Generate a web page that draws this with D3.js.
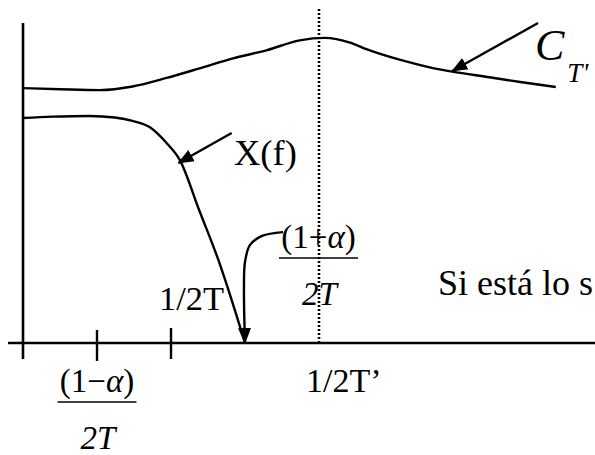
<!DOCTYPE html>
<html>
<head>
<meta charset="utf-8">
<script src="https://cdn.jsdelivr.net/npm/d3@7"></script>
<style>
  html, body { margin: 0; padding: 0; background: #fff; overflow: hidden; }
  svg { display: block; }
</style>
</head>
<body>
<svg id="chart" width="595" height="455"></svg>
<script>
// ---- data (frequency in units of 1/2T, amplitude relative to X(0)) ----
const xfFreq = [0, 0.20, 0.45, 0.62, 0.74, 0.86, 0.97, 1.06, 1.19, 1.32, 1.41, 1.50];
const xfAmp  = [1.00, 1.006, 1.009, 1.002, 0.987, 0.958, 0.889, 0.813, 0.591, 0.369, 0.191, 0.0];

const ctFreq = [0, 0.25, 0.52, 0.74, 0.97, 1.20, 1.42, 1.65, 1.87, 2.04, 2.21, 2.32, 2.55, 2.77, 2.90, 3.14, 3.36, 3.60];
const ctAmp  = [1.133, 1.128, 1.124, 1.140, 1.178, 1.222, 1.265, 1.302, 1.345, 1.356, 1.335, 1.306, 1.258, 1.222, 1.206, 1.182, 1.160, 1.138];

const tickValues = [0, 0.5, 1];            // f = 0, (1-α)/2T, 1/2T
const nyquistT2 = 2;                        // 1/2T'
const rolloffEdge = 1.5;                    // (1+α)/2T

// annotation arrows: [tail, tip] in (f, amplitude)
const arrowX  = [[1.41, 0.933], [1.05, 0.80]];
const arrowCT = [[3.48, 1.422], [2.90, 1.209]];
const arrowRoll = [[1.757, 0.493], [1.615, 0.476], [1.534, 0.436], [1.50, 0.36], [1.493, 0.236], [rolloffEdge, 0.0]];

// ---- scales ----
const x = d3.scaleLinear().domain([0, 1]).range([23, 171]);
const y = d3.scaleLinear().domain([0, 1]).range([343, 118]);

const FONT = "'Liberation Serif', 'Times New Roman', serif";
const svg = d3.select("#chart").attr("font-family", FONT);
svg.append("rect").attr("width", 595).attr("height", 455).attr("fill", "#fff");

const defs = svg.append("defs");
defs.append("marker")
  .attr("id", "head")
  .attr("markerUnits", "userSpaceOnUse")
  .attr("viewBox", "0 -7 16 14")
  .attr("refX", 15).attr("refY", 0)
  .attr("markerWidth", 16).attr("markerHeight", 14)
  .attr("orient", "auto")
  .append("path").attr("d", "M0,-6.5L16,0L0,6.5Z").attr("fill", "#000");

// ---- axes ----
svg.append("line")
  .attr("x1", x(-0.101)).attr("x2", 595)
  .attr("y1", y(0)).attr("y2", y(0))
  .attr("stroke", "#000").attr("stroke-width", 2.6);
svg.append("line")
  .attr("x1", x(0)).attr("x2", x(0))
  .attr("y1", y(-0.071)).attr("y2", y(1.422))
  .attr("stroke", "#000").attr("stroke-width", 2.6);

svg.selectAll("line.tick")
  .data(tickValues.filter(d => d > 0))
  .enter().append("line")
  .attr("class", "tick")
  .attr("x1", d => x(d)).attr("x2", d => x(d))
  .attr("y1", (d, i) => y(0) - (i === 0 ? 13 : 15))
  .attr("y2", (d, i) => y(0) + (i === 0 ? 18 : 16))
  .attr("stroke", "#000").attr("stroke-width", 2.4);

// dotted line at 1/2T'
svg.append("line")
  .attr("x1", x(nyquistT2)).attr("x2", x(nyquistT2))
  .attr("y1", y(0)).attr("y2", y(1.493))
  .attr("stroke", "#000").attr("stroke-width", 2.6)
  .attr("stroke-dasharray", "2,2");

// ---- curves ----
const line = d3.line().x(d => x(d[0])).y(d => y(d[1])).curve(d3.curveMonotoneX);

svg.append("path")
  .datum(ctFreq.map((f, i) => [f, ctAmp[i]]))
  .attr("d", line).attr("fill", "none").attr("stroke", "#000").attr("stroke-width", 2.4);

svg.append("path")
  .datum(xfFreq.map((f, i) => [f, xfAmp[i]]))
  .attr("d", line).attr("fill", "none").attr("stroke", "#000").attr("stroke-width", 2.4);

// ---- annotation arrows ----
const straight = d3.line().x(d => x(d[0])).y(d => y(d[1]));
[arrowX, arrowCT].forEach(a => {
  svg.append("path").attr("d", straight(a))
    .attr("fill", "none").attr("stroke", "#000").attr("stroke-width", 2.4)
    .attr("marker-end", "url(#head)");
});
svg.append("path").datum(arrowRoll)
  .attr("d", d3.line().x(d => x(d[0])).y(d => y(d[1])).curve(d3.curveCatmullRom.alpha(0.5)))
  .attr("fill", "none").attr("stroke", "#000").attr("stroke-width", 2.4)
  .attr("marker-end", "url(#head)");

// ---- text ----
function frac(cx, baseNum, sign) {
  const t = svg.append("text").attr("x", cx).attr("y", baseNum)
    .attr("text-anchor", "middle").attr("font-size", 33);
  t.append("tspan").text("(1" + sign);
  t.append("tspan").attr("font-style", "italic").text("α");
  t.append("tspan").text(")");
  svg.append("line").attr("x1", cx - 39.5).attr("x2", cx + 39.5)
    .attr("y1", baseNum + 10).attr("y2", baseNum + 10)
    .attr("stroke", "#000").attr("stroke-width", 1.5);
  svg.append("text").attr("x", cx + 1).attr("y", baseNum + 57)
    .attr("text-anchor", "middle").attr("font-size", 33).attr("font-style", "italic")
    .text("2T");
}
frac(x(tickValues[1]), 392, "−");
frac(x(nyquistT2) - 0.5, 248, "+");

svg.append("text").attr("x", 159).attr("y", 310).attr("font-size", 34.5).text("1/2T");
svg.append("text").attr("x", 306).attr("y", 392).attr("font-size", 34).text("1/2T’");
svg.append("text").attr("x", 234).attr("y", 165).attr("font-size", 36.5).text("X(f)");
svg.append("text").attr("x", 438).attr("y", 295).attr("font-size", 36).text("Si está lo s");

const ct = svg.append("text").attr("x", 535).attr("y", 60).attr("font-size", 44).attr("font-style", "italic");
ct.append("tspan").text("C");
ct.append("tspan").attr("font-size", 27).attr("dy", 22).attr("dx", 3).text("T'");
</script>
</body>
</html>
